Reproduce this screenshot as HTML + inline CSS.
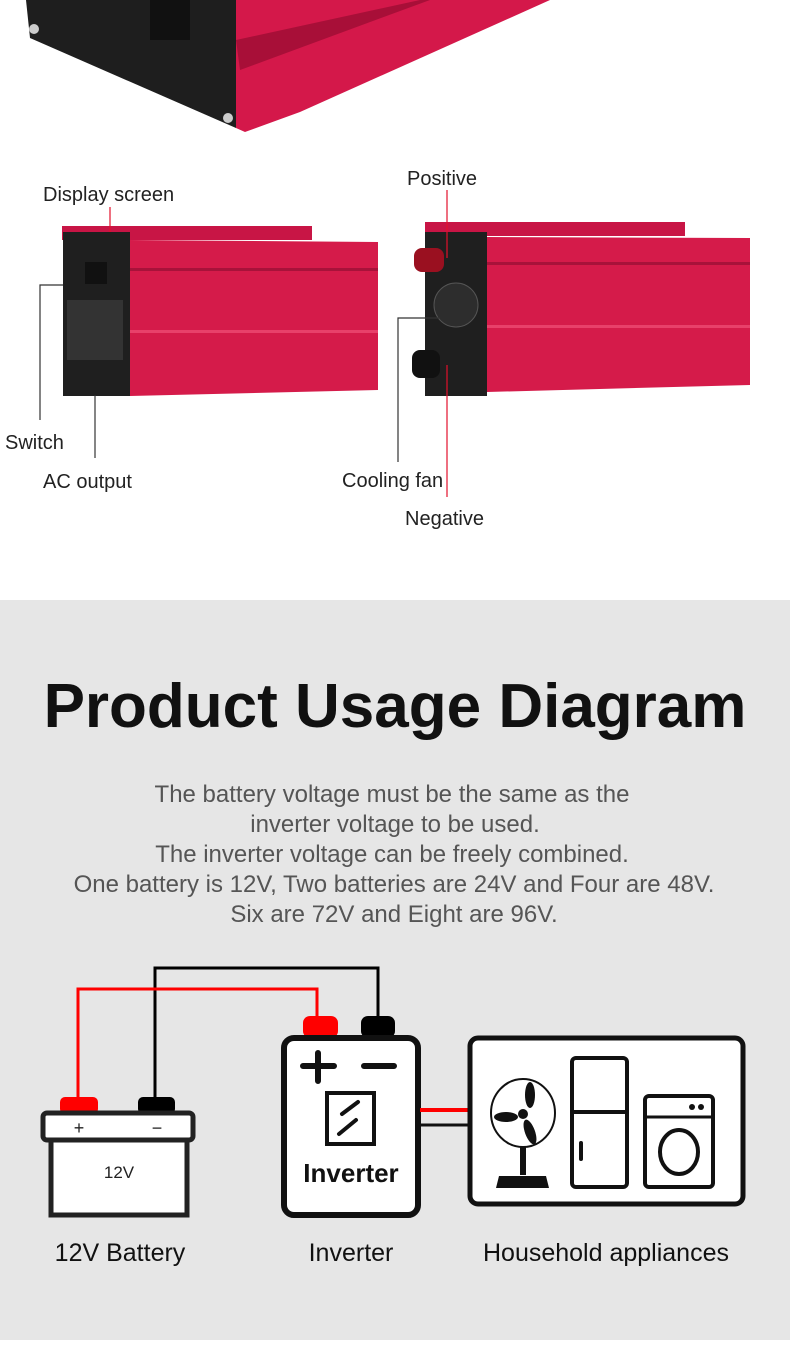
<!DOCTYPE html>
<html><head><meta charset="utf-8"><style>
body{margin:0;width:790px;height:1340px;overflow:hidden;background:#fff;font-family:"Liberation Sans",sans-serif}
</style></head><body>
<svg width="790" height="1340" viewBox="0 0 790 1340" xmlns="http://www.w3.org/2000/svg" font-family="Liberation Sans, sans-serif">
<rect width="790" height="600" fill="#fff"/>
<polygon points="236,0 550,0 300,112 245,132 236,128" fill="#d4184a"/>
<polygon points="236,40 420,0 430,0 240,70" fill="#a80f38"/>
<polygon points="26,0 236,0 236,128 30,38" fill="#1e1e1e"/>
<circle cx="34" cy="29" r="5" fill="#ccc"/><circle cx="228" cy="118" r="5" fill="#ccc"/>
<rect x="150" y="0" width="40" height="40" fill="#111"/>
<polygon points="130,240 378,242 378,390 130,396" fill="#d51b4a"/>
<rect x="130" y="268" width="248" height="3" fill="#a8123a"/>
<rect x="130" y="330" width="248" height="3" fill="#e8406a"/>
<rect x="62" y="226" width="250" height="14" fill="#c81545"/>
<rect x="63" y="232" width="67" height="164" fill="#1f1f1f"/>
<rect x="67" y="300" width="56" height="60" fill="#333"/>
<rect x="85" y="262" width="22" height="22" fill="#111"/>
<polygon points="487,237 750,238 750,385 487,392" fill="#d51b4a"/>
<rect x="487" y="262" width="263" height="3" fill="#a8123a"/>
<rect x="487" y="325" width="263" height="3" fill="#e8406a"/>
<rect x="425" y="222" width="260" height="14" fill="#c81545"/>
<rect x="425" y="232" width="62" height="164" fill="#1f1f1f"/>
<circle cx="456" cy="305" r="22" fill="#2d2d2d" stroke="#555"/>
<rect x="414" y="248" width="30" height="24" rx="8" fill="#9a1020"/>
<rect x="412" y="350" width="28" height="28" rx="8" fill="#111"/>
<g stroke-width="1.2" fill="none">
<path d="M110 207V232" stroke="#e3102c"/>
<path d="M63 285H40V420" stroke="#333"/>
<path d="M95 395V458" stroke="#333"/>
<path d="M447 190V258" stroke="#e3102c"/>
<path d="M440 318H398V462" stroke="#333"/>
<path d="M447 365V497" stroke="#e3102c"/>
</g>
<g font-size="20" fill="#222">
<text x="43" y="201">Display screen</text>
<text x="407" y="185">Positive</text>
<text x="5" y="449">Switch</text>
<text x="43" y="488">AC output</text>
<text x="342" y="487">Cooling fan</text>
<text x="405" y="525">Negative</text>
</g>
<rect x="0" y="600" width="790" height="740" fill="#e6e6e6"/>
<text x="395" y="727" text-anchor="middle" font-size="62" font-weight="bold" fill="#111">Product Usage Diagram</text>
<g font-size="24" fill="#555" text-anchor="middle">
<text x="392" y="802">The battery voltage must be the same as the</text>
<text x="395" y="832">inverter voltage to be used.</text>
<text x="392" y="862">The inverter voltage can be freely combined.</text>
<text x="394" y="892">One battery is 12V, Two batteries are 24V and Four are 48V.</text>
<text x="394" y="922">Six are 72V and Eight are 96V.</text>
</g>
<path d="M155 1097V968H378V1018" stroke="#000" stroke-width="3" fill="none"/>
<path d="M78 1097V989H317V1018" stroke="#f00" stroke-width="3" fill="none"/>
<rect x="60" y="1097" width="38" height="17" rx="5" fill="#f00"/>
<rect x="138" y="1097" width="37" height="17" rx="5" fill="#000"/>
<rect x="51" y="1138" width="136" height="77" fill="#fff" stroke="#222" stroke-width="5"/>
<rect x="43" y="1113" width="150" height="27" rx="4" fill="#fff" stroke="#222" stroke-width="5"/>
<text x="79" y="1134" font-size="18" text-anchor="middle" fill="#222">+</text>
<text x="157" y="1134" font-size="18" text-anchor="middle" fill="#222">−</text>
<text x="119" y="1178" font-size="17" text-anchor="middle" fill="#222">12V</text>
<rect x="303" y="1016" width="35" height="22" rx="7" fill="#f00"/>
<rect x="361" y="1016" width="34" height="22" rx="7" fill="#000"/>
<rect x="284" y="1038" width="134" height="177" rx="10" fill="#fff" stroke="#111" stroke-width="6"/>
<path d="M303 1066H334M318 1053V1081M364 1066H394" stroke="#111" stroke-width="6" stroke-linecap="round"/>
<rect x="327" y="1093" width="47" height="51" fill="#fff" stroke="#111" stroke-width="4"/>
<path d="M342 1114L358 1102M339 1134L356 1120" stroke="#111" stroke-width="4" stroke-linecap="round"/>
<text x="351" y="1182" font-size="26" font-weight="bold" text-anchor="middle" fill="#111">Inverter</text>
<path d="M420 1110H470" stroke="#f00" stroke-width="4"/>
<path d="M420 1125H470" stroke="#111" stroke-width="3"/>
<rect x="470" y="1038" width="273" height="166" rx="8" fill="#fff" stroke="#111" stroke-width="5"/>
<ellipse cx="523" cy="1113" rx="32" ry="34" fill="#fff" stroke="#111" stroke-width="2"/>
<circle cx="523" cy="1114" r="5" fill="#111"/>
<ellipse cx="530" cy="1095" rx="5" ry="13" fill="#111"/>
<ellipse cx="506" cy="1117" rx="12" ry="5" fill="#111"/>
<ellipse cx="530" cy="1132" rx="5" ry="13" transform="rotate(-20 530 1132)" fill="#111"/>
<rect x="520" y="1147" width="6" height="28" fill="#111"/>
<path d="M496 1188L499 1176H546L549 1188Z" fill="#111"/>
<rect x="572" y="1058" width="55" height="129" rx="4" fill="#fff" stroke="#111" stroke-width="4"/>
<path d="M572 1112H627" stroke="#111" stroke-width="4"/>
<rect x="579" y="1141" width="4" height="20" rx="2" fill="#111"/>
<rect x="645" y="1096" width="68" height="91" rx="4" fill="#fff" stroke="#111" stroke-width="4"/>
<path d="M645 1117H713" stroke="#111" stroke-width="3"/>
<circle cx="692" cy="1107" r="3" fill="#111"/><circle cx="701" cy="1107" r="3" fill="#111"/>
<ellipse cx="679" cy="1152" rx="19" ry="22" fill="none" stroke="#111" stroke-width="4"/>
<g font-size="25" fill="#111" text-anchor="middle">
<text x="120" y="1261">12V Battery</text>
<text x="351" y="1261">Inverter</text>
<text x="606" y="1261">Household appliances</text>
</g>
</svg>
</body></html>
